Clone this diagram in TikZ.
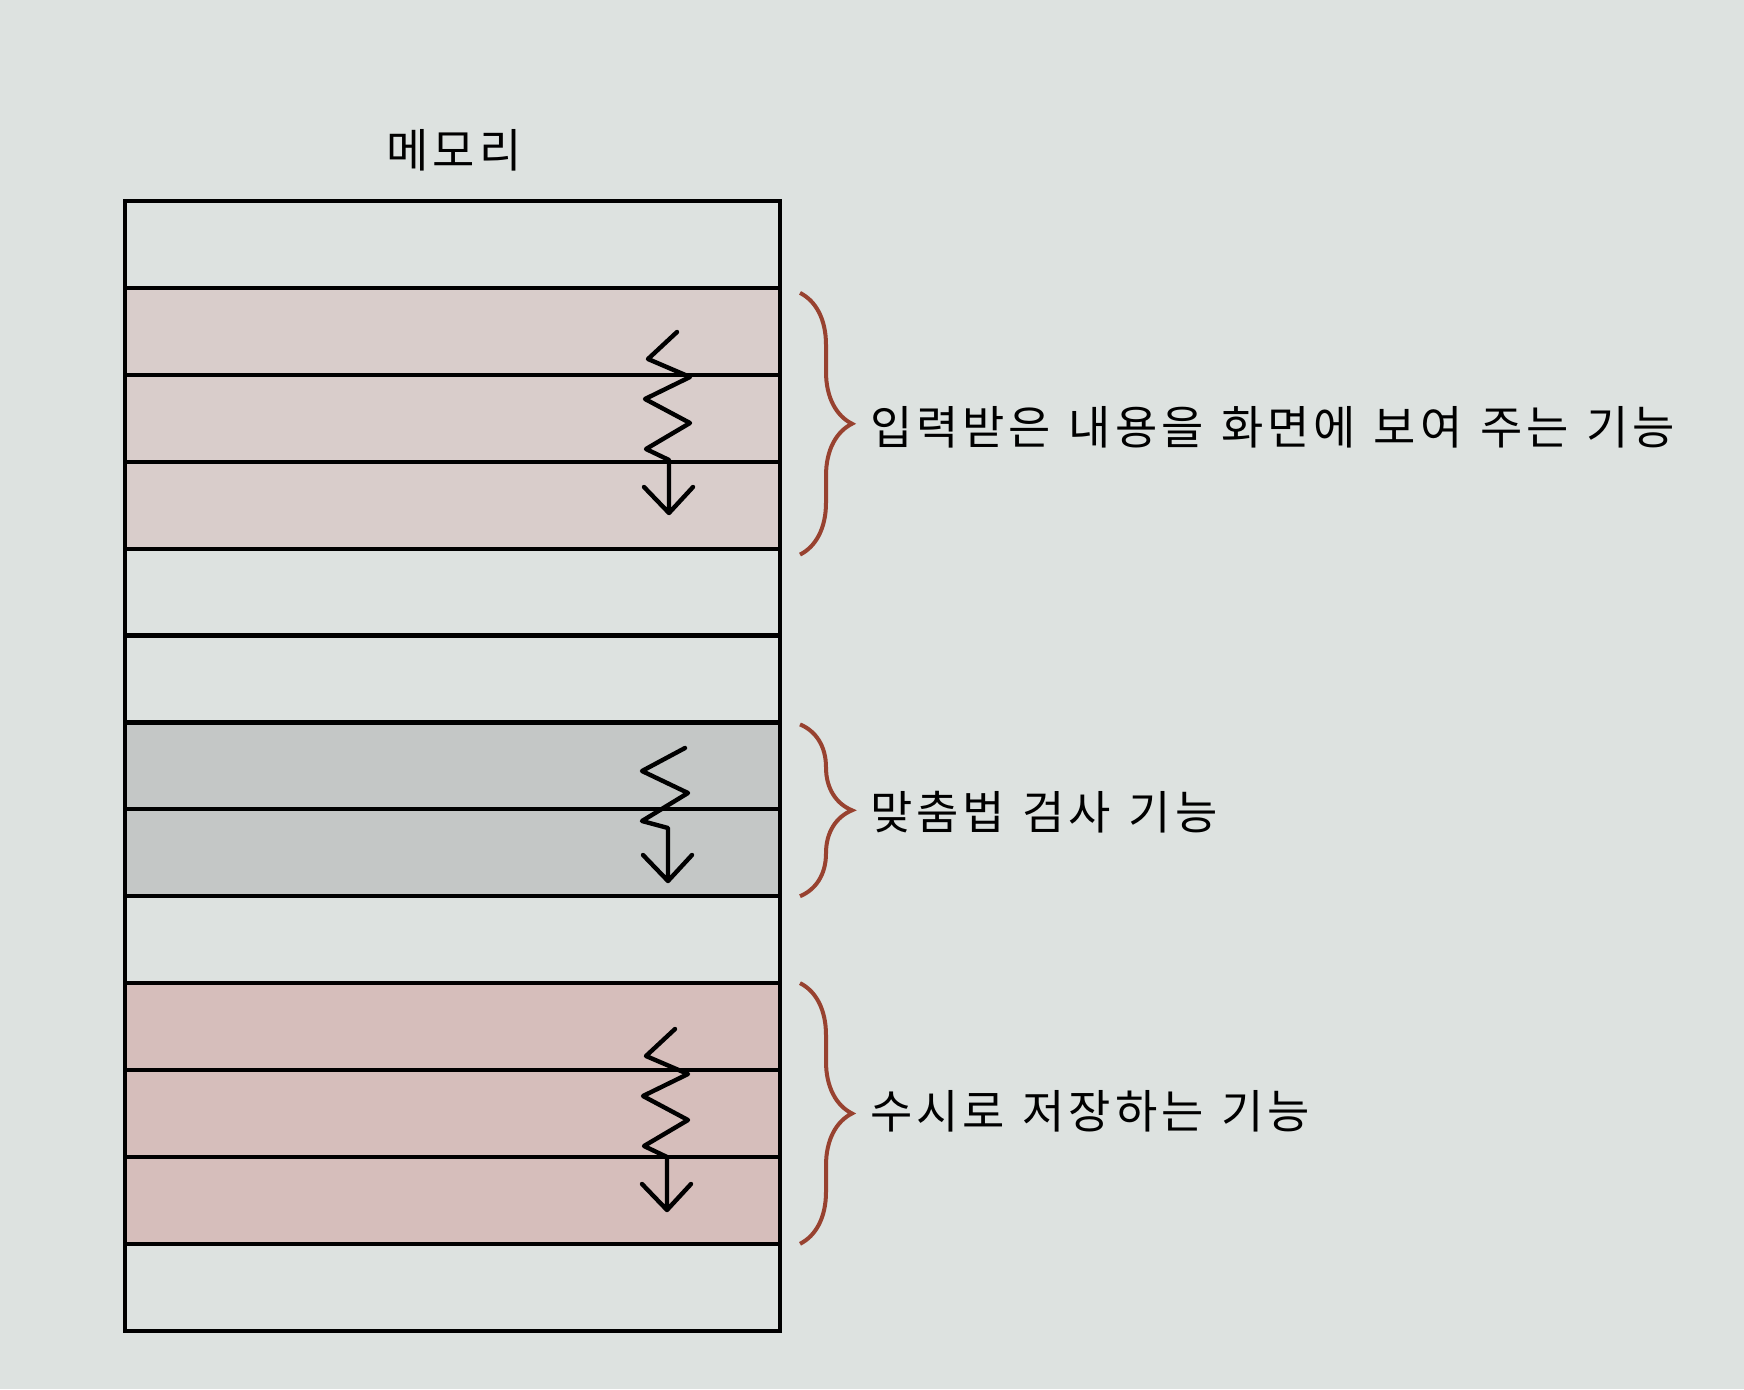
\documentclass[tikz,border=0pt]{standalone}
\usepackage{fontspec}
\newfontfamily\kofont{Noto Sans CJK KR}[LetterSpace=8.5,WordSpace=1.25]
\usetikzlibrary{decorations.pathreplacing,positioning}
\definecolor{paper}{RGB}{221,226,224}
\definecolor{rowpink}{RGB}{217,205,203}
\definecolor{rowgray}{RGB}{196,199,198}
\definecolor{rowrose}{RGB}{214,190,187}
\definecolor{bracered}{RGB}{152,66,48}
\tikzset{
  memrow/.style={draw=black, line width=4.2pt, minimum width=655pt, minimum height=86.9pt, inner sep=0pt, outer sep=0pt, anchor=north west},
  zig/.style={draw=black, line width=4.4pt, line join=round, line cap=round},
  membrace/.style={draw=bracered, line width=4pt, decorate, decoration={brace, amplitude=52pt, aspect=0.5}},
  memtext/.style={font=\kofont\fontsize{46}{50}\selectfont, inner sep=0pt},
  % pics are drawn with y pointing up
  zigthree/.pic={\draw[zig] (0,0) -- (-29,-27) -- (13,-45) -- (-32,-67) -- (13,-91) -- (-31,-117) -- (-8,-128) -- (-8,-181)
      (-33,-155) -- (-8,-181) -- (16,-155);},
  zigtwo/.pic={\draw[zig] (0,0) -- (-43,-23) -- (3,-45) -- (-43,-73) -- (-17,-80) -- (-17,-133)
      (-42,-107) -- (-17,-133) -- (7,-107);}
}
\begin{document}
\begin{tikzpicture}[x=1pt,y=1pt,yscale=-1,xscale=1]
        % Background
        \fill[paper] (0,0) rectangle (1744,1389);
        % Text Node
        \node[memtext] (title) at (454,150) {메모리};
        % Memory rows
        \foreach \i/\c in {1/paper,2/rowpink,3/rowpink,4/rowpink,5/paper,6/paper,7/rowgray,8/rowgray,9/paper,10/rowrose,11/rowrose,12/rowrose,13/paper}
          \node[memrow, fill=\c] (r\i) at (125,{201+(\i-1)*86.9}) {};
        % Arrows
        \pic at (677,332) {zigthree};
        \pic at (685,748) {zigtwo};
        \pic at (675,1029) {zigthree};
        % Braces and text nodes
        \draw[membrace] ([xshift=20pt,yshift=5pt]r2.north east) -- ([xshift=20pt,yshift=6pt]r4.south east)
          node[memtext, midway, anchor=west, xshift=68pt, yshift=-4pt] (lbl1) {입력받은 내용을 화면에 보여 주는 기능};
        \draw[membrace] ([xshift=20pt,yshift=2pt]r7.north east) -- ([xshift=20pt]r8.south east)
          node[memtext, midway, anchor=west, xshift=68pt, yshift=-1.5pt] (lbl2) {맞춤법 검사 기능};
        \draw[membrace] ([xshift=20pt]r10.north east) -- ([xshift=20pt]r12.south east)
          node[memtext, midway, anchor=west, xshift=68pt, yshift=2.5pt] (lbl3) {수시로 저장하는 기능};
    \end{tikzpicture}
\end{document}
